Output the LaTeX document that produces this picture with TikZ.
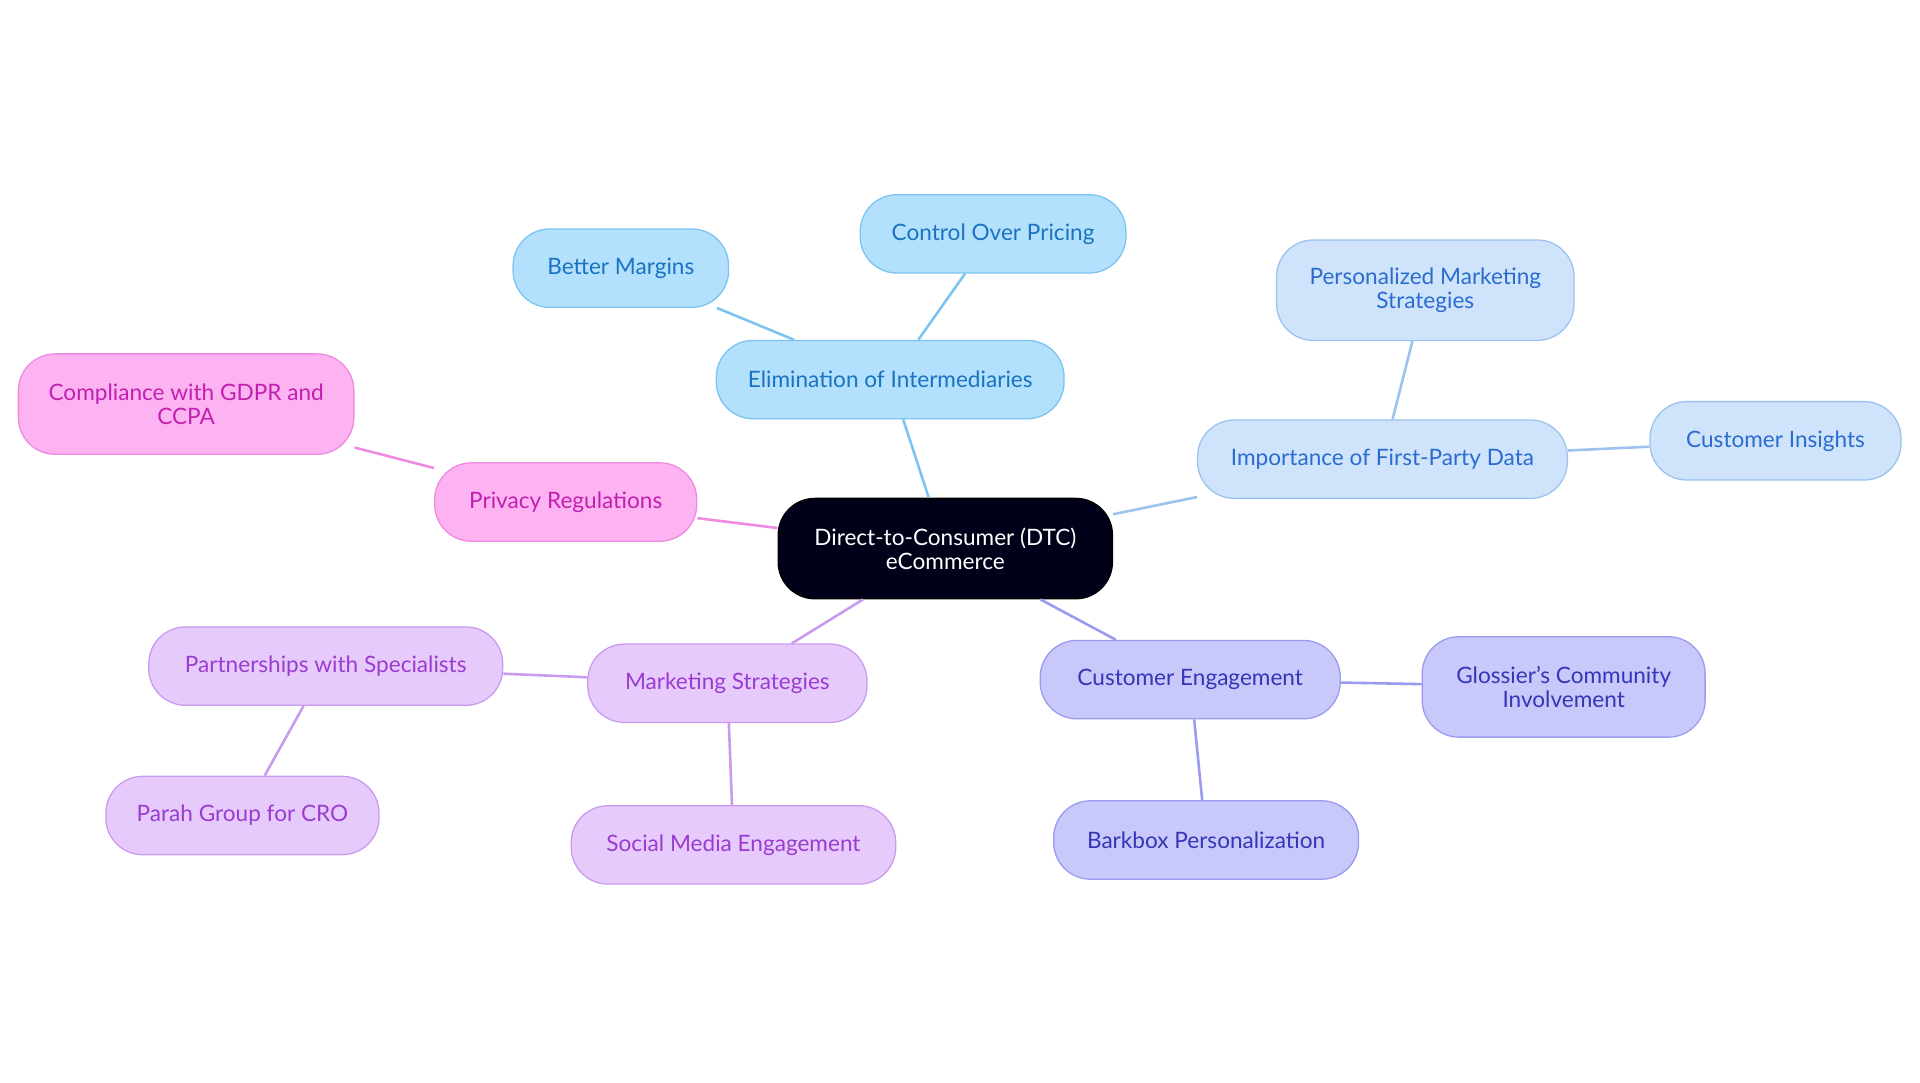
\documentclass[tikz,border=0pt]{standalone}
\usepackage{fontspec}
\setmainfont{Lato}
\begin{document}
\begin{tikzpicture}[x=0.02cm,y=-0.02cm,
  box/.style={draw, line width=0.6pt, rounded corners=0.6cm, align=center, inner sep=0pt, font=\fontsize{10.5}{11}\selectfont},
  eb/.style={box, fill=blue1, draw=blue1d, text=blue1t},
  ib/.style={box, fill=blue2, draw=blue2d, text=blue2t},
  cb/.style={box, fill=vio, draw=viod, text=viot},
  mb/.style={box, fill=pur, draw=purd, text=purt},
  pb/.style={box, fill=pin, draw=pind, text=pint},
  ln/.style={line width=1.2pt}]
\definecolor{blue1}{HTML}{B3E0FC}\definecolor{blue1d}{HTML}{7CC4F0}\definecolor{blue1t}{HTML}{1A73C0}
\definecolor{blue2}{HTML}{CFE3FB}\definecolor{blue2d}{HTML}{9CC3EF}\definecolor{blue2t}{HTML}{2A6CCF}
\definecolor{vio}{HTML}{C8C9FA}\definecolor{viod}{HTML}{9A9BEF}\definecolor{viot}{HTML}{3535B8}
\definecolor{pur}{HTML}{E6CAFC}\definecolor{purd}{HTML}{C99BEF}\definecolor{purt}{HTML}{9A3CCF}
\definecolor{pin}{HTML}{FDB3F2}\definecolor{pind}{HTML}{F08AE0}\definecolor{pint}{HTML}{C21FB0}
\useasboundingbox (0,0) rectangle (1568,884);
\node[box, fill=black!90!blue, draw=black, text=white, minimum width=273*0.02cm, minimum height=82*0.02cm] (c) at (772,448) {Direct-to-Consumer (DTC)\\eCommerce};
\node[eb, minimum width=284*0.02cm, minimum height=64*0.02cm] (e) at (727,310) {Elimination of Intermediaries};
\node[eb, minimum width=176*0.02cm, minimum height=64*0.02cm] (e1) at (507,219) {Better Margins};
\node[eb, minimum width=217*0.02cm, minimum height=64*0.02cm] (e2) at (811,191) {Control Over Pricing};
\node[ib, minimum width=302*0.02cm, minimum height=64*0.02cm] (i) at (1129,375) {Importance of First-Party Data};
\node[ib, minimum width=243*0.02cm, minimum height=82*0.02cm] (i1) at (1164,237) {Personalized Marketing\\Strategies};
\node[ib, minimum width=205*0.02cm, minimum height=64*0.02cm] (i2) at (1450,360) {Customer Insights};
\node[cb, minimum width=245*0.02cm, minimum height=64*0.02cm] (g) at (972,555) {Customer Engagement};
\node[cb, minimum width=231*0.02cm, minimum height=82*0.02cm] (g1) at (1277,561) {Glossier's Community\\Involvement};
\node[cb, minimum width=249*0.02cm, minimum height=64*0.02cm] (g2) at (985,686) {Barkbox Personalization};
\node[mb, minimum width=228*0.02cm, minimum height=64*0.02cm] (m) at (594,558) {Marketing Strategies};
\node[mb, minimum width=289*0.02cm, minimum height=64*0.02cm] (m1) at (266,544) {Partnerships with Specialists};
\node[mb, minimum width=223*0.02cm, minimum height=64*0.02cm] (m2) at (198,666) {Parah Group for CRO};
\node[mb, minimum width=265*0.02cm, minimum height=64*0.02cm] (m3) at (599,690) {Social Media Engagement};
\node[pb, minimum width=214*0.02cm, minimum height=64*0.02cm] (p) at (462,410) {Privacy Regulations};
\node[pb, minimum width=274*0.02cm, minimum height=82*0.02cm] (p1) at (152,330) {Compliance with GDPR and\\CCPA};
\draw[ln, blue1d] (c) -- (e) (e) -- (e1) (e) -- (e2);
\draw[ln, blue2d] (c) -- (i) (i) -- (i1) (i) -- (i2);
\draw[ln, viod] (c) -- (g) (g) -- (g1) (g) -- (g2);
\draw[ln, purd] (c) -- (m) (m) -- (m1) (m1) -- (m2) (m) -- (m3);
\draw[ln, pind] (c) -- (p) (p) -- (p1);
\end{tikzpicture}
\end{document}
